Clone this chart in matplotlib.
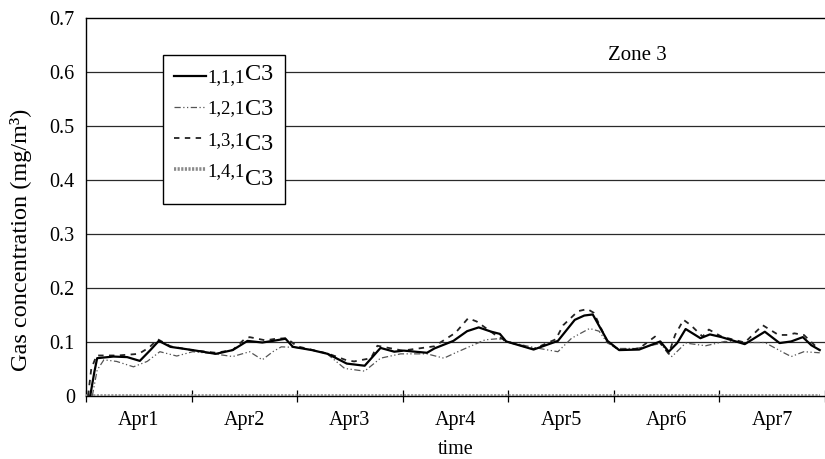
import matplotlib.pyplot as plt
from matplotlib.lines import Line2D
import numpy as np

plt.rcParams['font.family'] = 'Liberation Serif'

# time in days from the start of Apr1, concentration in mg/m3
t_111 = [0.04, 0.08, 0.106, 0.26, 0.39, 0.51, 0.61, 0.69, 0.80, 1.01, 1.23, 1.39, 1.53, 1.67,
         1.77, 1.89, 1.96, 2.14, 2.29, 2.47, 2.64, 2.79, 2.92, 3.01, 3.23, 3.30, 3.48, 3.61,
         3.72, 3.84, 3.92, 3.98, 4.24, 4.47, 4.63, 4.72, 4.80, 4.94, 5.05, 5.24, 5.44, 5.52,
         5.60, 5.68, 5.82, 5.91, 6.02, 6.24, 6.43, 6.57, 6.68, 6.79, 6.87, 6.95]
c_111 = [0.0, 0.045, 0.070, 0.073, 0.072, 0.065, 0.085, 0.102, 0.091, 0.085, 0.078, 0.085, 0.102, 0.099,
         0.102, 0.106, 0.091, 0.085, 0.078, 0.060, 0.056, 0.089, 0.082, 0.084, 0.080, 0.088, 0.102, 0.120,
         0.127, 0.119, 0.115, 0.101, 0.086, 0.102, 0.141, 0.149, 0.151, 0.102, 0.085, 0.086, 0.101, 0.082,
         0.098, 0.124, 0.107, 0.114, 0.109, 0.096, 0.119, 0.098, 0.101, 0.109, 0.094, 0.085]

t_121 = [0.06, 0.106, 0.17, 0.29, 0.45, 0.58, 0.70, 0.86, 1.01, 1.18, 1.39, 1.55, 1.67, 1.77,
         1.85, 1.98, 2.14, 2.29, 2.45, 2.64, 2.79, 2.98, 3.23, 3.39, 3.50, 3.78, 3.90, 4.00,
         4.24, 4.38, 4.47, 4.60, 4.77, 4.86, 4.94, 5.04, 5.21, 5.44, 5.55, 5.68, 5.87, 6.05,
         6.24, 6.43, 6.62, 6.68, 6.80, 6.95]
c_121 = [0.0, 0.048, 0.067, 0.064, 0.054, 0.064, 0.082, 0.074, 0.082, 0.079, 0.073, 0.082, 0.067, 0.082,
         0.091, 0.090, 0.085, 0.077, 0.051, 0.046, 0.070, 0.078, 0.078, 0.070, 0.080, 0.104, 0.106, 0.100,
         0.090, 0.085, 0.082, 0.107, 0.125, 0.120, 0.098, 0.088, 0.088, 0.097, 0.073, 0.098, 0.093, 0.101,
         0.099, 0.099, 0.079, 0.073, 0.082, 0.080]

t_131 = [0.02, 0.05, 0.10, 0.30, 0.50, 0.60, 0.68, 0.80, 1.00, 1.23, 1.39, 1.50, 1.55, 1.70,
         1.80, 1.90, 2.00, 2.30, 2.47, 2.54, 2.70, 2.76, 3.00, 3.30, 3.50, 3.62, 3.70, 3.90,
         4.00, 4.24, 4.45, 4.52, 4.66, 4.75, 4.81, 4.94, 5.05, 5.24, 5.39, 5.52, 5.58, 5.66,
         5.73, 5.84, 5.90, 6.02, 6.24, 6.41, 6.56, 6.65, 6.71, 6.80, 6.95]
c_131 = [0.0, 0.050, 0.075, 0.075, 0.078, 0.090, 0.105, 0.092, 0.085, 0.080, 0.085, 0.105, 0.109, 0.103,
         0.106, 0.107, 0.092, 0.078, 0.066, 0.064, 0.070, 0.093, 0.084, 0.092, 0.117, 0.144, 0.138, 0.110,
         0.100, 0.087, 0.105, 0.131, 0.157, 0.161, 0.154, 0.100, 0.085, 0.088, 0.110, 0.078, 0.113, 0.141,
         0.131, 0.110, 0.123, 0.110, 0.099, 0.131, 0.113, 0.113, 0.116, 0.113, 0.085]

t_141 = [0.0, 6.95]
c_141 = [0.0, 0.0]

series_names = ['1,1,1', '1,2,1', '1,3,1', '1,4,1']
gas = 'C3'
day_labels = ['Apr1', 'Apr2', 'Apr3', 'Apr4', 'Apr5', 'Apr6', 'Apr7']

fig = plt.figure(figsize=(8.25, 4.59), dpi=100)
ax = fig.add_axes([0.1042, 0.1373, 0.8958, 0.8235])

l141, = ax.plot(t_141, c_141, color='#8a8a8a', lw=2.6, ls=(0, (0.6, 0.4)), zorder=3)
l121, = ax.plot(t_121, c_121, color='#555555', lw=0.9, ls=(0, (5, 2, 1, 2, 1, 2)), zorder=4)
l131, = ax.plot(t_131, c_131, color='#222222', lw=1.3, ls=(0, (3, 3)), zorder=4)
l111, = ax.plot(t_111, c_111, color='black', lw=1.6, zorder=5)

ax.set_xlim(0, 6.945)
ax.set_ylim(0, 0.7)
ax.set_yticks(np.arange(0, 0.71, 0.1))
ax.set_yticklabels(['0', '0.1', '0.2', '0.3', '0.4', '0.5', '0.6', '0.7'])
ax.tick_params(axis='y', length=0, pad=8, labelsize=14.5)
for yv in np.arange(0.1, 0.65, 0.1):
    ax.axhline(yv, color='#2a2a2a', lw=0.9, zorder=1)

ax.set_xticks(range(0, 8))
ax.set_xticklabels([])
ax.set_xticks(np.arange(0.5, 7, 1), minor=True)
ax.set_xticklabels(day_labels, minor=True)
ax.tick_params(axis='x', which='major', direction='inout', length=9, width=0.9)
ax.tick_params(axis='x', which='minor', length=0, pad=11, labelsize=14.5)

for s in ['left', 'top', 'bottom']:
    ax.spines[s].set_linewidth(1.0)
ax.spines['right'].set_visible(False)

ax.set_xlabel('time', fontsize=14.5, labelpad=7)
ax.set_ylabel('Gas concentration (mg/m³)', fontsize=17.5)
ax.yaxis.set_label_coords(-0.073, 0.413)

ax.text(0.746, 0.9, 'Zone 3', transform=ax.transAxes, ha='center', va='center', fontsize=15)

# second legend column holds the raised gas name next to each series label
blank = [Line2D([], [], lw=0) for _ in series_names]
leg = ax.legend([l111, l121, l131, l141] + blank, series_names + [gas] * 4, ncol=2,
                loc='upper left', bbox_to_anchor=(0.104, 0.902), borderaxespad=0,
                fancybox=False, edgecolor='black', framealpha=1, fontsize=13.5,
                handlelength=1.7, handletextpad=0.1, labelspacing=0.75, borderpad=0.6,
                columnspacing=-1.8)
leg.get_frame().set_linewidth(1.0)
for txt in leg.get_texts()[4:]:
    txt.set_fontsize(17.5)
    txt.set_position((0, 2))

fig.savefig('out.png', dpi=100)
